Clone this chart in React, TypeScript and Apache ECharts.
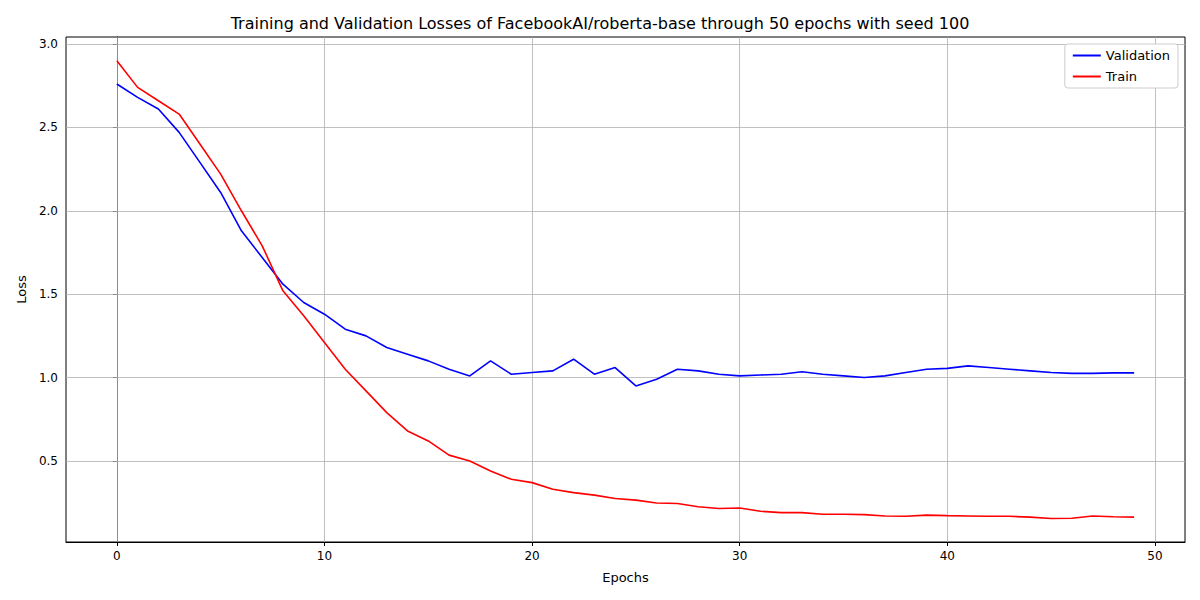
import React, { useEffect, useRef } from 'react';
import * as echarts from 'echarts';

const epochs = Array.from({ length: 50 }, (_, i) => i);
const validation = [
  2.76, 2.68, 2.61, 2.47, 2.29, 2.11, 1.88, 1.72, 1.56, 1.45,
  1.38, 1.29, 1.25, 1.18, 1.14, 1.10, 1.05, 1.01, 1.10, 1.02,
  1.03, 1.04, 1.11, 1.02, 1.06, 0.95, 0.99, 1.05, 1.04, 1.02,
  1.01, 1.015, 1.02, 1.035, 1.02, 1.01, 1.00, 1.01, 1.03, 1.05,
  1.055, 1.07, 1.06, 1.05, 1.04, 1.03, 1.025, 1.025, 1.028, 1.028,
];
const train = [
  2.90, 2.74, 2.66, 2.58, 2.40, 2.22, 2.00, 1.79, 1.52, 1.37,
  1.21, 1.05, 0.92, 0.79, 0.68, 0.62, 0.535, 0.50, 0.44, 0.39,
  0.37, 0.33, 0.31, 0.295, 0.275, 0.265, 0.248, 0.245, 0.225, 0.215,
  0.218, 0.198, 0.19, 0.19, 0.18, 0.18, 0.178, 0.17, 0.168, 0.175,
  0.172, 0.17, 0.168, 0.168, 0.163, 0.155, 0.156, 0.17, 0.165, 0.163,
];
const xTicks = [0, 10, 20, 30, 40, 50];
const yTicks = [0.5, 1.0, 1.5, 2.0, 2.5, 3.0];

const font = 'DejaVu Sans';

export default function App() {
  const ref = useRef<HTMLDivElement>(null);

  useEffect(() => {
    if (!ref.current) return;
    const chart = echarts.init(ref.current, null, { renderer: 'svg' });
    const gridLine = { color: '#b0b0b0', width: 0.8, type: 'solid' };
    chart.setOption({
      animation: false,
      textStyle: { fontFamily: font },
      title: {
        text: 'Training and Validation Losses of FacebookAI/roberta-base through 50 epochs with seed 100',
        left: 'center',
        top: 10,
        textStyle: { fontFamily: font, fontSize: 16, fontWeight: 'normal', color: '#000' },
      },
      legend: {
        orient: 'vertical',
        right: 22,
        top: 44,
        itemWidth: 28,
        itemHeight: 2,
        itemGap: 8,
        padding: [5, 8],
        borderColor: '#ccc',
        borderWidth: 1,
        borderRadius: 3,
        backgroundColor: '#fff',
        icon: 'rect',
        textStyle: { fontFamily: font, fontSize: 13, color: '#000' },
        data: ['Validation', 'Train'],
      },
      grid: { left: 66, right: 15, top: 37, bottom: 58, show: true, borderColor: '#000', borderWidth: 1 },
      xAxis: {
        type: 'value',
        min: -2.45,
        max: 51.45,
        name: 'Epochs',
        nameLocation: 'middle',
        nameGap: 29,
        nameTextStyle: { fontFamily: font, fontSize: 13, color: '#000' },
        axisLine: { lineStyle: { color: '#000' } },
        axisTick: { customValues: xTicks, length: 4, lineStyle: { color: '#000' } },
        axisLabel: { customValues: xTicks, color: '#000', fontSize: 12, margin: 8 },
        splitLine: { show: false },
      },
      yAxis: {
        type: 'value',
        min: 0.014,
        max: 3.042,
        name: 'Loss',
        nameLocation: 'middle',
        nameGap: 38,
        nameTextStyle: { fontFamily: font, fontSize: 13, color: '#000' },
        axisLine: { show: true, lineStyle: { color: '#000' } },
        axisTick: { show: true, customValues: yTicks, length: 4, lineStyle: { color: '#000' } },
        axisLabel: { customValues: yTicks, color: '#000', fontSize: 12, margin: 8, formatter: (v: number) => v.toFixed(1) },
        splitLine: { show: false },
      },
      series: [
        {
          name: 'Validation',
          type: 'line',
          data: epochs.map((e, i) => [e, validation[i]]),
          showSymbol: false,
          lineStyle: { color: '#0000ff', width: 1.6 },
          itemStyle: { color: '#0000ff' },
          z: 3,
          markLine: {
            silent: true,
            symbol: 'none',
            label: { show: false },
            lineStyle: gridLine,
            z: 1,
            data: [...xTicks.map((v) => ({ xAxis: v })), ...yTicks.map((v) => ({ yAxis: v }))],
          },
        },
        {
          name: 'Train',
          type: 'line',
          data: epochs.map((e, i) => [e, train[i]]),
          showSymbol: false,
          lineStyle: { color: '#ff0000', width: 1.6 },
          itemStyle: { color: '#ff0000' },
          z: 3,
        },
      ],
    });
    return () => chart.dispose();
  }, []);

  return <div ref={ref} style={{ width: 1200, height: 600, position: 'absolute', left: 0, top: 0 }} />;
}
